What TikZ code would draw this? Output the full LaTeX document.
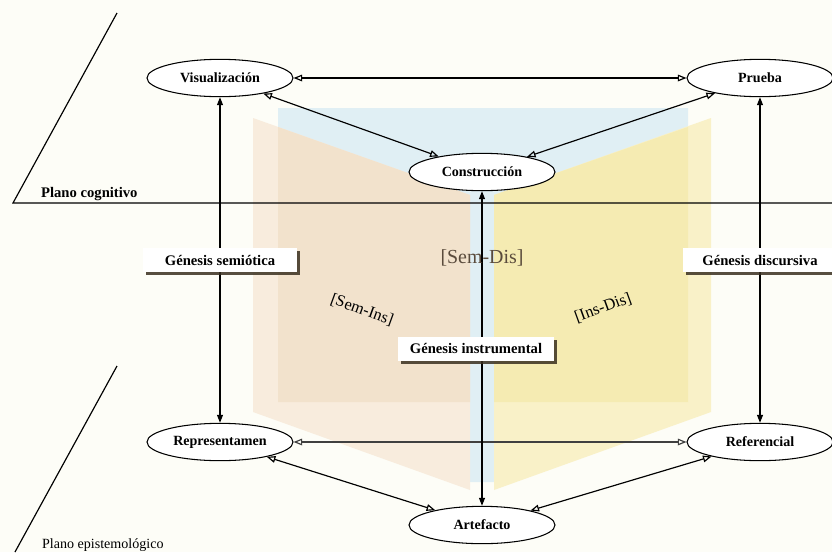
\documentclass[tikz,border=0pt]{standalone}
\usepackage{fontspec}
\setmainfont{Liberation Serif}
\usepackage{tikz}
\usetikzlibrary{positioning,arrows.meta,shapes.geometric,shadows,calc}

\definecolor{bgpaper}{HTML}{FDFDF7}
\definecolor{tanlight}{HTML}{F8ECDD}
\definecolor{tandark}{HTML}{F2E2CC}
\definecolor{yellight}{HTML}{F9F1C8}
\definecolor{yeldark}{HTML}{F5EBB2}
\definecolor{bluelight}{HTML}{E0EFF4}
\definecolor{shadowc}{HTML}{3A3020}
\definecolor{pairtext}{HTML}{5A4B3C}

\begin{document}
\begin{tikzpicture}[
  x=0.03cm, y=-0.03cm,
  stage/.style={draw, ellipse, fill=white, line width=0.9pt, minimum width=4.38cm, minimum height=1.12cm, inner sep=0pt, font=\fontsize{12}{14}\selectfont\bfseries},
  genesis/.style={fill=white, minimum width=4.6cm, minimum height=0.72cm, inner sep=0pt, font=\fontsize{12.5}{14}\selectfont\bfseries, drop shadow={shadow xshift=0.9mm, shadow yshift=-0.9mm, fill=shadowc, opacity=0.85}},
  pair/.style={font=\fontsize{14}{16}\selectfont},
  oarr/.style={{Triangle[open,length=2.6mm,width=2mm]}-{Triangle[open,length=2.6mm,width=2mm]}, line width=1pt},
  farr/.style={{Triangle[length=2.4mm,width=1.8mm]}-{Triangle[length=2.4mm,width=1.8mm]}, line width=1pt}
]
\fill[bgpaper] (0,0) rectangle (832,552);
\useasboundingbox (0,0) rectangle (832,552);

% coloured panels
\fill[bluelight] (278,108) -- (688,108) -- (688,402) -- (494,482) -- (470,482) -- (278,402) -- cycle;
\fill[tanlight] (253,118) -- (470,195) -- (470,490) -- (253,412) -- cycle;
\fill[tandark] (278,127) -- (470,195) -- (470,402) -- (278,402) -- cycle;
\fill[yellight] (711,118) -- (494,195) -- (494,490) -- (711,412) -- cycle;
\fill[yeldark] (688,127) -- (494,195) -- (494,402) -- (688,402) -- cycle;

% planes
\draw[line width=1pt] (117,13) -- (13,203) -- (832,203);
\draw[line width=1pt] (117,366) -- (15,552);
\node[anchor=base west, font=\fontsize{12.5}{14}\selectfont\bfseries] (plcog) at (37,197) {Plano cognitivo};
\node[anchor=base west, font=\fontsize{12}{14}\selectfont] (plepi) at (38,548) {Plano epistemológico};

\node[stage] (vis) at (220,78) {Visualización};
\node[stage] (prueba) at (760,78) {Prueba};
\node[stage] (cons) at (482,172) {Construcción};
\node[stage] (rep) at (220,442) {Representamen};
\node[stage] (ref) at (760,442) {Referencial};
\node[stage] (art) at (482,525) {Artefacto};

\draw[oarr] (vis) -- (prueba);
\draw[oarr] (vis) -- (cons);
\draw[oarr] (prueba) -- (cons);
\draw[oarr, draw=black!75] (rep) -- (ref);
\draw[oarr] (rep) -- (art);
\draw[oarr] (ref) -- (art);
\draw[farr] (vis) -- (rep);
\draw[farr] (prueba) -- (ref);
\draw[farr] (cons) -- (art);
\fill (482,442) circle (1.1pt);

\node[genesis] (gsem) at ($(vis)!0.5!(rep)$) {Génesis semiótica};
\node[genesis] (gdis) at ($(prueba)!0.5!(ref)$) {Génesis discursiva};
\node[genesis, minimum width=4.7cm, xshift=-0.18cm] (gins) at ($(cons)!0.5!(art)$) {Génesis instrumental};

\node[pair, text=pairtext, font=\fontsize{17}{20}\selectfont] (semdis) at (482,258) {[Sem-Dis]};
\node[pair, rotate=-20] (semins) at (362,310) {[Sem-Ins]};
\node[pair, rotate=20] (insdis) at (603,308) {[Ins-Dis]};
\end{tikzpicture}
\end{document}
